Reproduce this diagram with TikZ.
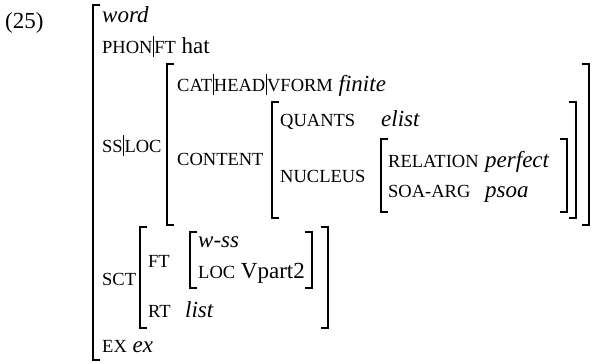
\documentclass[tikz,border=0pt]{standalone}
\usepackage{fontspec}
\setmainfont{Liberation Serif}
\newcommand\smc[1]{{\fontsize{18.5}{22}\selectfont #1}}
\newcommand\pth{\kern0.5pt\rule[-4pt]{0.8pt}{21pt}\kern0.5pt}
\newcommand\lbrak[3]{\draw[brak] (#1+7,#2) -- (#1,#2) -- (#1,#3) -- (#1+7,#3);}
\newcommand\rbrak[3]{\draw[brak] (#1-7,#2) -- (#1,#2) -- (#1,#3) -- (#1-7,#3);}
\tikzset{
  avm/.style={anchor=base west, inner sep=0pt, font=\fontsize{23}{27}\selectfont},
  brak/.style={line width=1.8pt, line cap=butt}
}
\begin{document}
\begin{tikzpicture}[x=1pt, y=-1pt]
\useasboundingbox (0,0) rectangle (595,362);
% example number
\node[avm] (num) at (5,28) {(25)};
% outer matrix
\lbrak{93}{5}{360}
\node[avm] (word) at (102,22) {\textit{word}};
\node[avm] (phon) at (102,53) {\smc{PHON}\pth\smc{FT} hat};
\node[avm] (ssloc) at (102,152) {\smc{SS}\pth\smc{LOC}};
\node[avm] (sct) at (102,285) {\smc{SCT}};
\node[avm] (ex) at (102,352) {\smc{EX} \textit{ex}};
% ss|loc value
\lbrak{167}{64}{225}
\rbrak{589}{64}{225}
\node[avm] (cat) at (177,91) {\smc{CAT}\pth\smc{HEAD}\pth\smc{VFORM} \textit{finite}};
\node[avm] (content) at (177,165) {\smc{CONTENT}};
% content value
\lbrak{272}{102}{218}
\rbrak{576}{102}{218}
\node[avm] (quants) at (280,126) {\smc{QUANTS}};
\node[avm] (elist) at (381,126) {\textit{elist}};
\node[avm] (nucleus) at (280,182) {\smc{NUCLEUS}};
% nucleus value
\lbrak{381}{139}{212}
\rbrak{567}{139}{212}
\node[avm] (relation) at (388,167) {\smc{RELATION}};
\node[avm] (perfect) at (485,167) {\textit{perfect}};
\node[avm] (soaarg) at (388,197) {\smc{SOA-ARG}};
\node[avm] (psoa) at (485,197) {\textit{psoa}};
% sct value
\lbrak{140}{227}{328}
\rbrak{328}{227}{328}
\node[avm] (ft) at (148,267) {\smc{FT}};
\node[avm] (rt) at (148,317) {\smc{RT}};
\node[avm] (list) at (185,317) {\textit{list}};
% ft value
\lbrak{190}{232}{288}
\rbrak{312}{232}{288}
\node[avm] (wss) at (198,247) {\textit{w-ss}};
\node[avm] (loc) at (198,278) {\smc{LOC} Vpart2};
\end{tikzpicture}
\end{document}
